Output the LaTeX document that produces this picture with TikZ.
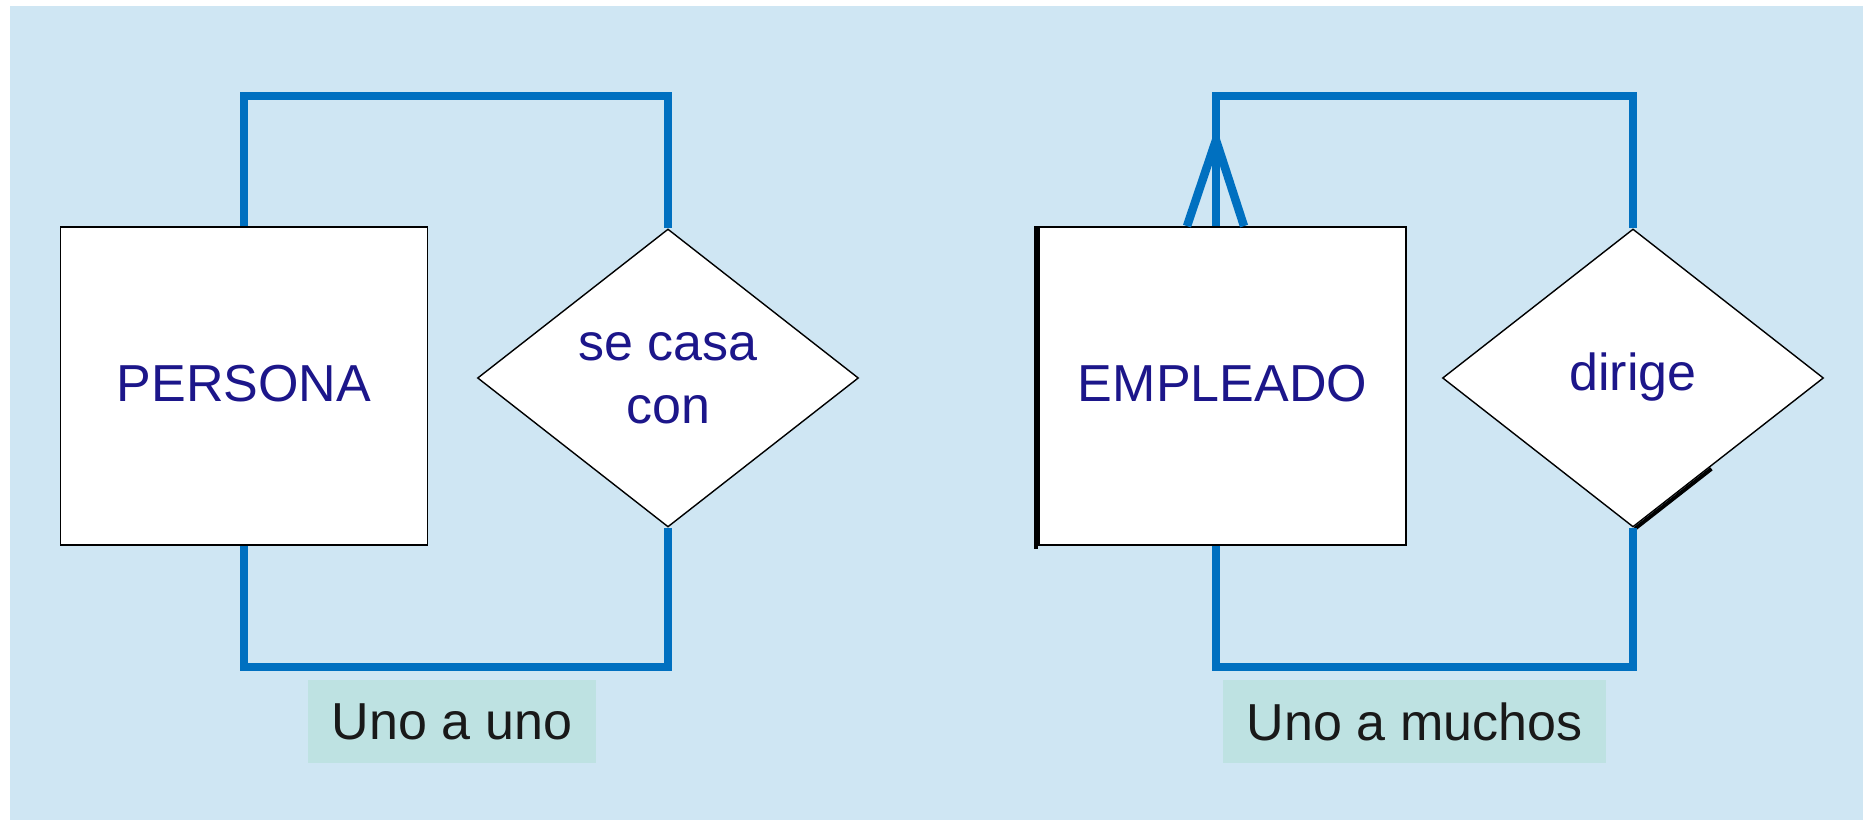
\documentclass[tikz,border=0pt]{standalone}
\usepackage{fontspec}
\setmainfont{Liberation Sans}
\usetikzlibrary{shapes.geometric,calc}
\definecolor{fondo}{RGB}{207,230,243}
\definecolor{azul}{RGB}{0,112,192}
\definecolor{verdoso}{RGB}{190,226,226}
\definecolor{tinta}{RGB}{28,22,138}

\begin{document}
\begin{tikzpicture}[font=\fontsize{14.8}{17.9}\selectfont,
  entidad/.style={draw=black,fill=white,line width=0.5pt,minimum width=3.67cm,minimum height=3.18cm,text=tinta,text height=0.9em,text depth=0em},
  relacion/.style={diamond,draw=black,fill=white,line width=0.4pt,minimum width=3.81cm,minimum height=2.98cm,inner sep=0pt,text=tinta,align=center},
  enlace/.style={draw=azul,line width=2.4pt},
  tipo/.style={fill=verdoso,minimum height=0.83cm,text=black!90}]

\useasboundingbox (0,0) rectangle (18.70,8.23);
\fill[fondo] (0.10,0.03) rectangle (18.63,8.17);

% uno a uno
\node[entidad] (persona) at (2.44,4.37) {PERSONA};
\node[relacion,text height=2.6em,text depth=0em] (casa) at (6.68,4.45) {se casa\\con};
\draw[enlace] (persona.north) -- ++(0,1.30) -| (casa.north);
\draw[enlace] (persona.south) -- ++(0,-1.21) -| (casa.south);
\node[tipo,minimum width=2.88cm] (uno) at (4.52,1.015) {Uno a uno};

% uno a muchos
\node[entidad] (empleado) at (12.225,4.37) {EMPLEADO};
\node[relacion,text height=0.95em,text depth=0.21em] (dirige) at (16.33,4.45) {dirige};
\draw[line width=1.1pt] ([xshift=-0.02cm]empleado.north west) -- ([shift={(-0.02,-0.03)}]empleado.south west);
\draw[line width=1.1pt] ([shift={(0.02,-0.01)}]dirige.south) -- ($(dirige.south)!0.4!(dirige.east)+(0.02,-0.01)$);
\coordinate (pata) at ([xshift=-0.065cm]empleado.north);
\draw[enlace] (pata) -- ++(0,1.30) -| (dirige.north);
\draw[enlace] (empleado.south -| pata) -- ++(0,-1.21) -| (dirige.south);
\draw[enlace] ($(pata)+(-0.29,0)$) -- ($(pata)+(0,0.86)$) -- ($(pata)+(0.28,0)$);
\node[tipo,minimum width=3.83cm] (muchos) at (14.145,1.015) {Uno a muchos};

\end{tikzpicture}
\end{document}
